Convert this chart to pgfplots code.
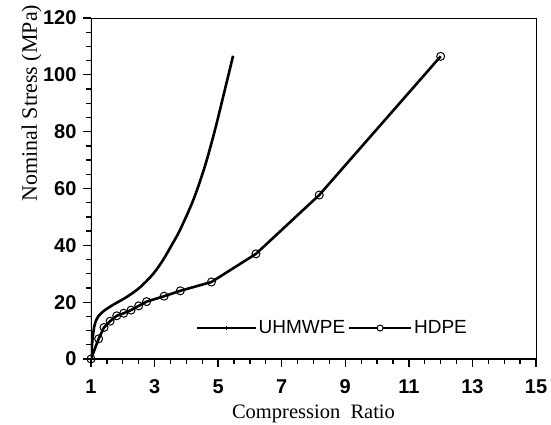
\documentclass[border=0pt]{standalone}
\usepackage{fontspec}
\setmainfont{Liberation Serif}
\newfontfamily\arial{Liberation Sans}
\usepackage{pgfplots}
\pgfplotsset{compat=1.18}
\begin{document}
\begin{tikzpicture}
\begin{axis}[
  scale only axis, width=445pt, height=341pt,
  xmin=1, xmax=15, ymin=0, ymax=120,
  xtick={1,3,...,15}, ytick={0,20,...,120},
  minor x tick num=3, minor y tick num=3,
  tick align=outside, xtick pos=bottom, ytick pos=left,
  major tick length=8pt, minor tick length=5pt,
  every tick/.style={black, line width=1.3pt},
  /pgf/number format/assume math mode=true,
  ticklabel style={font=\arial\bfseries\fontsize{20}{20}\selectfont},
  xticklabel style={yshift=-9pt},
  yticklabel style={xshift=-3pt},
  axis line style={line width=0.8pt},
  xlabel={Compression\ \ Ratio},
  ylabel={Nominal Stress (MPa)},
  xlabel style={yshift=-4pt, font=\fontsize{20.5}{20.5}\selectfont},
  ylabel style={at={(rel axis cs:0,0.75)}, anchor=south, yshift=46pt, font=\fontsize{22}{22}\selectfont},
  legend style={at={(axis cs:4.2,10.9)}, anchor=west, draw=none, fill=none,
    legend columns=2, font=\arial\fontsize{19}{19}\selectfont,
    /tikz/every even column/.append style={column sep=1pt}},
  legend cell align=left,
]
\addplot[line width=2.6pt, smooth, tension=0.5,
  legend image code/.code={\draw[line width=1.8pt] (0pt,0pt) -- (59pt,0pt); \draw[line width=0.8pt] (29.5pt,-1.8pt) -- (29.5pt,1.8pt);}]
 coordinates {(1,0) (1.02,3) (1.04,6) (1.07,9) (1.1,11.3) (1.15,13.3) (1.23,15) (1.33,16.2) (1.45,17.3) (1.7,19.1) (2.12,21.8) (2.54,25.2) (2.96,30) (3.27,34.9) (3.54,40.1) (3.8,45.4) (4.22,56) (4.58,67.7) (4.9,80.6) (5.21,94.7) (5.47,106.7)};
\addlegendentry{UHMWPE}
\addplot[line width=2.6pt, mark=o, mark size=4pt, mark options={line width=1pt, fill=none},
  legend image code/.code={\draw[line width=1.8pt] (0pt,0pt) -- (28pt,0pt); \draw[line width=1.8pt] (34pt,0pt) -- (62pt,0pt); \draw[line width=1pt] (31pt,0pt) circle (3pt);}]
 coordinates {(1,0) (1.24,7.1) (1.41,11.1) (1.6,13.3) (1.81,15.2) (2.03,16.1) (2.26,17.2) (2.5,18.7) (2.75,20.2) (3.3,22.1) (3.81,24) (4.79,27.1) (6.19,37) (8.18,57.7) (12.0,106.5)};
\addlegendentry{HDPE}
\draw[line width=2pt] (rel axis cs:0,1) -- (rel axis cs:0,0) -- (rel axis cs:1,0);
\end{axis}
\pgfresetboundingbox
\path (-91pt,-66pt) rectangle (460pt,359pt);
\end{tikzpicture}
\end{document}
